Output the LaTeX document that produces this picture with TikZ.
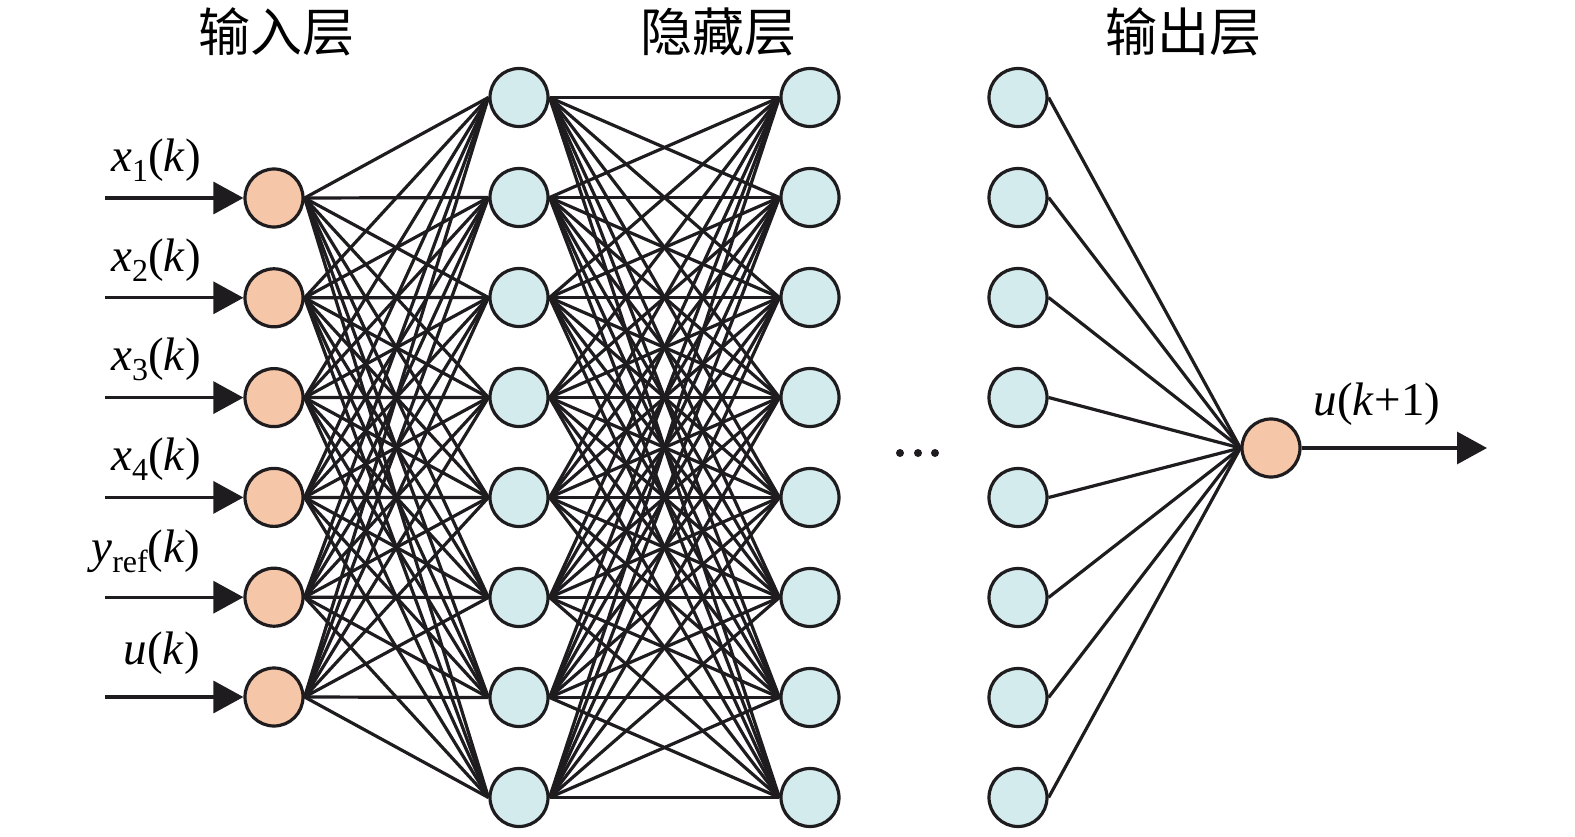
\documentclass[tikz,border=0pt]{standalone}
\usepackage{fontspec}
\setmainfont{Liberation Serif}
\newfontfamily\cjk{Noto Sans CJK SC}
\usetikzlibrary{arrows.meta}
\definecolor{inorange}{RGB}{245,198,168}
\definecolor{hidblue}{RGB}{212,235,238}
\definecolor{linek}{RGB}{30,28,30}
\newcommand{\varlab}[2]{\textit{#1}{\fontsize{32}{34}\selectfont\raisebox{-10pt}{#2}}(\textit{k})}
\begin{document}
\begin{tikzpicture}[x=1pt,y=-1pt,
  neuronin/.style={circle,draw=linek,line width=3.2pt,fill=inorange,minimum size=58pt,inner sep=0pt},
  neuronhid/.style={circle,draw=linek,line width=3.2pt,fill=hidblue,minimum size=58pt,inner sep=0pt},
  conn/.style={draw=linek,line width=3.2pt},
  inarrow/.style={draw=linek,line width=3.2pt,-{Triangle[length=30pt,width=32pt]}},
  lab/.style={font=\fontsize{47}{50}\selectfont,inner sep=0pt},
  title/.style={font=\cjk\fontsize{52}{56}\selectfont,inner sep=0pt}]
\useasboundingbox (0,0) rectangle (1575,837);
% titles
\node[title] (t1) at (276,32) {输入层};
\node[title] (t2) at (718,32) {隐藏层};
\node[title] (t3) at (1183,32) {输出层};
% input nodes
\foreach \i in {1,...,6}{
  \node[neuronin] (in\i) at (274,{198+99.8*(\i-1)}) {};
}
% hidden layers
\foreach \j in {1,...,8}{
  \node[neuronhid] (ha\j) at (519,{97.5+100*(\j-1)}) {};
  \node[neuronhid] (hb\j) at (810,{97.5+100*(\j-1)}) {};
  \node[neuronhid] (hc\j) at (1018,{97.5+100*(\j-1)}) {};
}
% output node
\node[neuronin] (out) at (1271,448) {};
% connections
\foreach \i in {1,...,6}{
  \foreach \j in {1,...,8}{
    \draw[conn] (in\i.east) -- (ha\j.west);
  }
}
\foreach \i in {1,...,8}{
  \foreach \j in {1,...,8}{
    \draw[conn] (ha\i.east) -- (hb\j.west);
  }
  \draw[conn] (hc\i.east) -- (out.west);
}
% input arrows
\foreach \i in {1,...,6}{
  \coordinate (s\i) at (105,{198+99.8*(\i-1)});
  \draw[inarrow] (s\i) -- (in\i.west);
}
\coordinate (e) at (1487,448);
\draw[inarrow] (out.east) -- (e);
% labels
\node[lab] (l1) at (156,160) {\varlab{x}{1}};
\node[lab] (l2) at (156,260) {\varlab{x}{2}};
\node[lab] (l3) at (156,359) {\varlab{x}{3}};
\node[lab] (l4) at (156,459) {\varlab{x}{4}};
\node[lab] (l5) at (146,551) {\varlab{y}{ref}};
\node[lab] (l6) at (162,653) {\textit{u}(\textit{k})};
\node[lab] (l7) at (1377,404) {\textit{u}(\textit{k}+1)};
% dots
\fill[linek] (900,453) circle (4pt) (918,453) circle (4pt) (935,453) circle (4pt);
\end{tikzpicture}
\end{document}
